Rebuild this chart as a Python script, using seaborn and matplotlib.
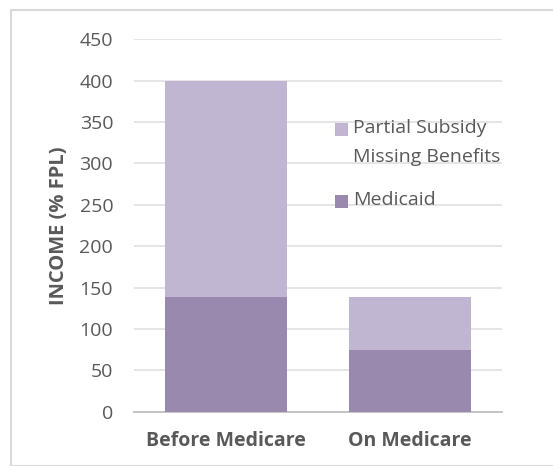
import matplotlib
matplotlib.use("Agg")
import matplotlib.pyplot as plt
import seaborn as sns
import pandas as pd
from matplotlib.patches import Rectangle

categories = ["Before Medicare", "On Medicare"]
medicaid = [138, 75]
partial_missing = [262, 64]
yticks = [0, 50, 100, 150, 200, 250, 300, 350, 400, 450]
legend_labels = ["Partial Subsidy\nMissing Benefits", "Medicaid"]
y_title = "INCOME (% FPL)"

sns.set_theme(style="white")
plt.rcParams['font.family'] = ['Open Sans', 'DejaVu Sans']

light = "#C1B6D1"
dark = "#9A89AE"
tc = "#595959"
W, H = 553, 466

df = pd.DataFrame({
    "cat": categories,
    "medicaid": medicaid,
    "total": [m + p for m, p in zip(medicaid, partial_missing)],
})

fig = plt.figure(figsize=(5.53, 4.66), dpi=100)
ax = fig.add_axes([134/W, 1 - 411.7/H, 368/W, (411.7 - 39.3)/H])

sns.barplot(data=df, x="cat", y="total", color=light, saturation=1, width=0.667,
            linewidth=0, edgecolor="none", ax=ax, zorder=2)
sns.barplot(data=df, x="cat", y="medicaid", color=dark, saturation=1, width=0.667,
            linewidth=0, edgecolor="none", ax=ax, zorder=3)

ax.set_xlim(-0.5, 1.5)
ax.set_ylim(0, 450)
ax.set_yticks(yticks)
ax.yaxis.grid(True, color="#E3E3E3", linewidth=1.3, zorder=0)
ax.set_axisbelow(True)
for s in ["top", "right", "left"]:
    ax.spines[s].set_visible(False)
ax.spines["bottom"].set_color("#BFBFBF")
ax.spines["bottom"].set_linewidth(1.3)
ax.tick_params(axis="both", length=0, colors=tc, labelsize=14)
ax.tick_params(axis="y", pad=15)
ax.tick_params(axis="x", pad=14)
for lbl in ax.get_xticklabels():
    lbl.set_fontweight("bold")
    lbl.set_fontsize(14)
ax.set_xlabel("")
ax.set_ylabel("")


def px(x, y):
    return x / W, 1 - y / H


fig.text(*px(59, 226), y_title, rotation=90, ha="center", va="center",
         fontsize=14.5, fontweight="bold", color=tc)

# legend (drawn manually so the swatch aligns with the first text line)
entries = [(light, legend_labels[0], 129), (dark, legend_labels[1], 201)]
for col, lab, yc in entries:
    fig.patches.append(Rectangle(px(335, yc + 6.5), 13/W, 13/H, transform=fig.transFigure,
                                 facecolor=col, edgecolor="none"))
    fig.text(*px(353, yc - 10), lab, ha="left", va="top", fontsize=14, color=tc,
             linespacing=1.82)

fig.patches.append(Rectangle((11/W, 0), 1, 1 - 10/H, transform=fig.transFigure,
                             fill=False, edgecolor="#D9D9D9", linewidth=1.5))

fig.savefig("out.png", dpi=100)
